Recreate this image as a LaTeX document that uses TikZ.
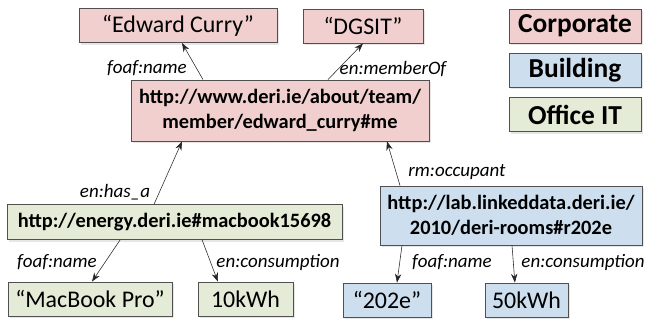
\documentclass[tikz,border=0pt]{standalone}
\usepackage{fontspec}
\setmainfont{Carlito}
\usetikzlibrary{arrows.meta,shadows}
\definecolor{corp}{RGB}{242,207,207}
\definecolor{bldg}{RGB}{205,222,238}
\definecolor{offit}{RGB}{228,235,214}
\definecolor{rim}{RGB}{80,80,80}
\tikzset{
  >={Stealth[length=2.2mm,width=1.6mm]},
  res/.style={draw=rim,fill=#1,semithick,minimum height=8.5mm,align=center,inner sep=1mm,
    font=\fontsize{17}{20}\selectfont,
    drop shadow={opacity=0.2,shadow xshift=0.5mm,shadow yshift=-0.5mm}},
  res/.default=corp,
  uri/.style={res=#1,font=\fontsize{14.5}{17.5}\selectfont\bfseries},
  uri/.default=corp,
  swatch/.style={res=#1,minimum width=33mm,font=\fontsize{19.5}{22}\selectfont\bfseries},
  swatch/.default=corp,
  rel/.style={->,draw=black!85,thin},
  prop/.style={font=\fontsize{13.5}{16}\selectfont\itshape},
}

\begin{document}
\begin{tikzpicture}
  \useasboundingbox (0,0) rectangle (16.125,-8.05);
  % legend
  \node[swatch=corp] (lc) at (14.375,-0.65) {Corporate};
  \node[swatch=bldg] (lb) at (14.375,-1.75) {Building};
  \node[swatch=offit] (lo) at (14.375,-2.8625) {Office IT};
  % corporate
  \node[res=corp,minimum width=49.5mm] (ec) at (4.45,-0.64) {“Edward Curry”};
  \node[res=corp,minimum width=30mm] (dg) at (9.075,-0.65) {“DGSIT”};
  \node[uri=corp,minimum width=74.5mm,minimum height=15.25mm] (me) at (7.0,-2.7625)
    {http://www.deri.ie/about/team/\\member/edward\_curry\#me};
  % office IT
  \node[uri=offit,minimum width=83.75mm,minimum height=8.75mm] (mb) at (4.3625,-5.55)
    {http://energy.deri.ie\#macbook15698};
  \node[res=offit,minimum width=41mm] (mp) at (2.25,-7.475) {“MacBook Pro”};
  \node[res=offit,minimum width=23.75mm] (kw10) at (6.1375,-7.475) {10kWh};
  % building
  \node[uri=bldg,minimum width=65.5mm,minimum height=14.75mm] (rm) at (12.775,-5.3875)
    {http://lab.linkeddata.deri.ie/\\2010/deri-rooms\#r202e};
  \node[res=bldg,minimum width=22mm] (r2) at (9.675,-7.5) {“202e”};
  \node[res=bldg,minimum width=20.75mm] (kw50) at (13.1625,-7.5) {50kWh};
  % links
  \draw[rel] ([xshift=-19.25mm]me.north) -- ([xshift=1mm]ec.south);
  \draw[rel] ([xshift=12mm]me.north) -- (dg.south);
  \draw[rel] ([xshift=-5.1mm]mb.north) -- ([xshift=-24.5mm]me.south);
  \draw[rel] ([xshift=-27.75mm]rm.north) -- ([xshift=26.75mm]me.south);
  \draw[rel] ([xshift=-13.6mm]mb.south) -- ([xshift=0.5mm]mp.north);
  \draw[rel] ([xshift=6.9mm]mb.south) -- ([xshift=-6.9mm]kw10.north);
  \draw[rel] ([xshift=-27.25mm]rm.south) -- ([xshift=2.5mm]r2.north);
  \draw[rel] ([xshift=0.25mm]rm.south) -- ([xshift=-2.9mm]kw50.north);
  % link names
  \node[prop] (l1) at (3.675,-1.7) {foaf:name};
  \node[prop] (l2) at (9.825,-1.725) {en:memberOf};
  \node[prop] (l3) at (2.875,-4.8) {en:has\_a};
  \node[prop] (l4) at (11.425,-4.3) {rm:occupant};
  \node[prop] (l5) at (1.425,-6.55) {foaf:name};
  \node[prop] (l6) at (6.95,-6.55) {en:consumption};
  \node[prop] (l7) at (11.3,-6.55) {foaf:name};
  \node[prop] (l8) at (14.575,-6.55) {en:consumption};
\end{tikzpicture}
\end{document}
